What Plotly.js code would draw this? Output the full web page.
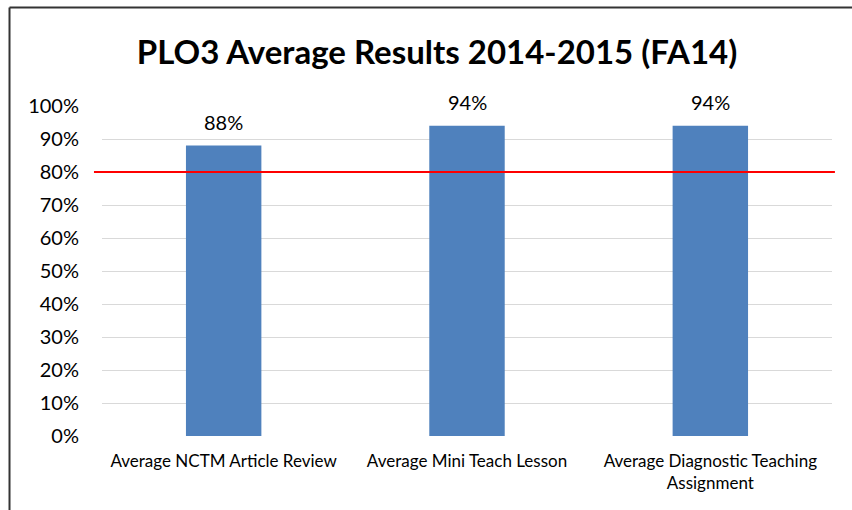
<!DOCTYPE html>
<html><head><meta charset="utf-8">
<script src="https://cdn.plot.ly/plotly-3.0.1.min.js"></script>
<style>body{margin:0;background:#fff}#chart{width:852px;height:510px}</style>
</head><body><div id="chart"></div>
<script>
const categories = ["Average NCTM Article Review", "Average Mini Teach Lesson", "Average Diagnostic Teaching<br>Assignment"];
const values = [0.88, 0.94, 0.94];
const labels = ["88%", "94%", "94%"];
const target = 0.8;
const yTicks = [0,0.1,0.2,0.3,0.4,0.5,0.6,0.7,0.8,0.9,1.0];
const yTickText = ["0%","10%","20%","30%","40%","50%","60%","70%","80%","90%","100%"];

const FONT = "Lato, 'Open Sans', sans-serif";
const trace = {
  type: 'bar', x: categories, y: values,
  marker: {color: '#4f81bd'}, hoverinfo: 'none'
};
const annotations = categories.map((c, i) => ({
  x: c, y: values[i], xref: 'x', yref: 'y', text: labels[i], showarrow: false,
  yanchor: 'middle', yshift: 24, font: {family: FONT, size: 20, color: '#000'}
}));
const layout = {
  width: 852, height: 510,
  margin: {l: 102, r: 20, t: 106, b: 74},
  paper_bgcolor: '#fff', plot_bgcolor: '#fff',
  showlegend: false, bargap: 0.69,
  title: {text: '<b>PLO3 Average Results 2014-2015 (FA14)</b>', x: 0.513, xanchor: 'center', y: 0.898, yanchor: 'middle',
          font: {family: FONT, size: 33, color: '#000'}},
  xaxis: {type: 'category', showgrid: false, zeroline: false, showline: false, ticks: '', ticklabelstandoff: 13,
          tickfont: {family: FONT, size: 17, color: '#000'}},
  yaxis: {range: [0, 1.0], tickvals: yTicks, ticktext: yTickText, showgrid: true, gridcolor: '#d9d9d9', gridwidth: 1,
          zeroline: false, showline: false, ticks: '', ticklabelstandoff: 22,
          tickfont: {family: FONT, size: 20, color: '#000'}},
  annotations: annotations,
  shapes: [
    {type: 'line', xref: 'paper', yref: 'y', x0: -0.011, x1: 1.004, y0: target, y1: target, line: {color: '#ff0000', width: 2}},
    {type: 'line', xref: 'paper', yref: 'paper', x0: -0.1267, x1: -0.1267, y0: 1.2985, y1: -0.3, line: {color: '#333', width: 2}},
    {type: 'line', xref: 'paper', yref: 'paper', x0: -0.1267, x1: 1.1, y0: 1.2985, y1: 1.2985, line: {color: '#333', width: 2}}
  ]
};
Plotly.newPlot('chart', [trace], layout, {displayModeBar: false, staticPlot: true});
</script></body></html>
